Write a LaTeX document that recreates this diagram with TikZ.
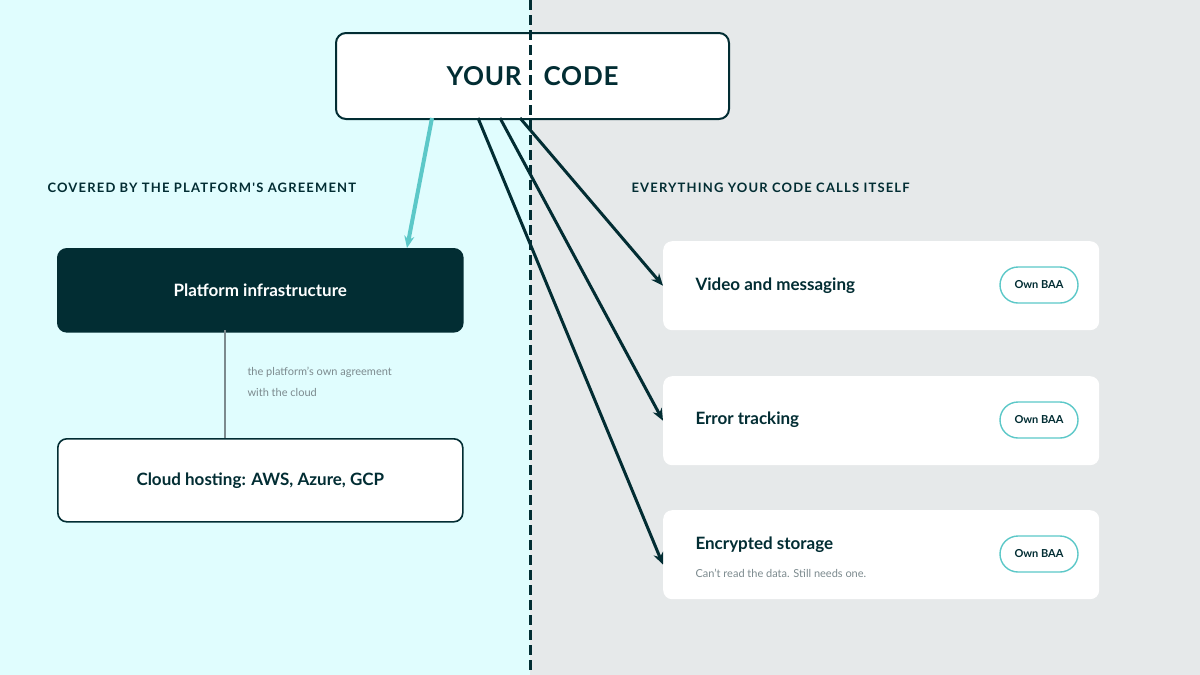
\documentclass[tikz,border=0pt]{standalone}
\usepackage{fontspec}
\setmainfont{Lato}
\newfontfamily\headfont[LetterSpace=9]{Lato}
\newfontfamily\titlefont[LetterSpace=3]{Lato}
\newcommand\apos{\char39\relax}
\usetikzlibrary{positioning,arrows.meta}
\definecolor{leftbg}{HTML}{E0FDFE}
\definecolor{rightbg}{HTML}{E6E9EA}
\definecolor{darkteal}{HTML}{022D33}
\definecolor{lineteal}{HTML}{5CC8C8}
\definecolor{notegray}{HTML}{7C8A8E}
\tikzset{
  cardbox/.style={draw=none, fill=white, rounded corners=9pt, minimum width=436pt, minimum height=89pt, anchor=north west},
  stackbox/.style={draw=darkteal, line width=1.6pt, rounded corners=9pt, minimum width=405pt, minimum height=83pt, anchor=north west, font=\bfseries\fontsize{17}{20}\selectfont, text=darkteal},
  pill/.style={draw=lineteal, line width=1.4pt, fill=white, rounded corners=18pt, minimum width=78pt, minimum height=36pt, font=\bfseries\fontsize{11}{13}\selectfont, text=darkteal},
  heading/.style={anchor=west, font=\headfont\bfseries\fontsize{13}{15}\selectfont, text=darkteal},
  cardtitle/.style={anchor=west, font=\bfseries\fontsize{17}{20}\selectfont, text=darkteal},
  callarrow/.style={-{Stealth[length=12pt,width=10pt]}, line width=3pt, draw=darkteal}
}
\begin{document}
\begin{tikzpicture}[x=1pt,y=-1pt]
  % Fondos
  \fill[leftbg] (0,0) rectangle (530,675);
  \fill[rightbg] (530,0) rectangle (1200,675);
  \useasboundingbox (0,0) rectangle (1200,675);

  % Caja principal
  \node[draw=darkteal, line width=2pt, fill=white, rounded corners=10pt, minimum width=393pt, minimum height=86pt, anchor=north west, font=\titlefont\bfseries\fontsize{26}{30}\selectfont, text=darkteal] (code) at (335,32) {YOUR\hspace{22pt}CODE};

  % Divisor
  \draw[darkteal, line width=3pt, dash pattern=on 10pt off 5pt] (530,0) -- (530,675);

  % Titulos
  \node[heading] (lefthead) at (44,188) {COVERED BY THE PLATFORM\apos S AGREEMENT};
  \node[heading] (righthead) at (628,188) {EVERYTHING YOUR CODE CALLS ITSELF};

  % Lado izquierdo
  \node[stackbox, fill=darkteal, text=white] (infra) at (57,248) {Platform infrastructure};
  \node[stackbox, fill=white] (cloud) at (57,438) {Cloud hosting: AWS, Azure, GCP};
  \coordinate (linktop) at (225,330);
  \coordinate (linkbot) at (225,438);
  \draw[notegray, line width=1.2pt] (linktop) -- (linkbot);
  \node[anchor=north west, align=left, font=\fontsize{11}{21}\selectfont, text=notegray] (note) at (244,364) {the platform\apos s own agreement\\with the cloud};

  % Lado derecho
  \foreach \name/\y in {video/241, errors/376, storage/510} {
    \node[cardbox] (\name) at (663,\y) {};
    \node[pill] (\name baa) at (1039,\y+44) {Own BAA};
  }
  \node[cardtitle] (videotxt) at (692,286) {Video and messaging};
  \node[cardtitle] (errorstxt) at (692,420) {Error tracking};
  \node[cardtitle] (storagetxt) at (692,545) {Encrypted storage};
  \node[anchor=west, font=\fontsize{11}{13}\selectfont, text=notegray] (storagesub) at (692,573) {Can\apos t read the data. Still needs one.};

  % Flechas
  \coordinate (outA) at (432,118);
  \coordinate (inA) at (407,248);
  \draw[-{Stealth[length=12pt,width=10pt]}, line width=4pt, lineteal] (outA) -- (inA);
  \coordinate (outV) at (520,118);
  \coordinate (outE) at (500,118);
  \coordinate (outS) at (478,118);
  \draw[callarrow] (outV) -- (video.west);
  \draw[callarrow] (outE) -- (errors.west);
  \draw[callarrow] (outS) -- ([yshift=-10pt]storage.west);
\end{tikzpicture}
\end{document}
